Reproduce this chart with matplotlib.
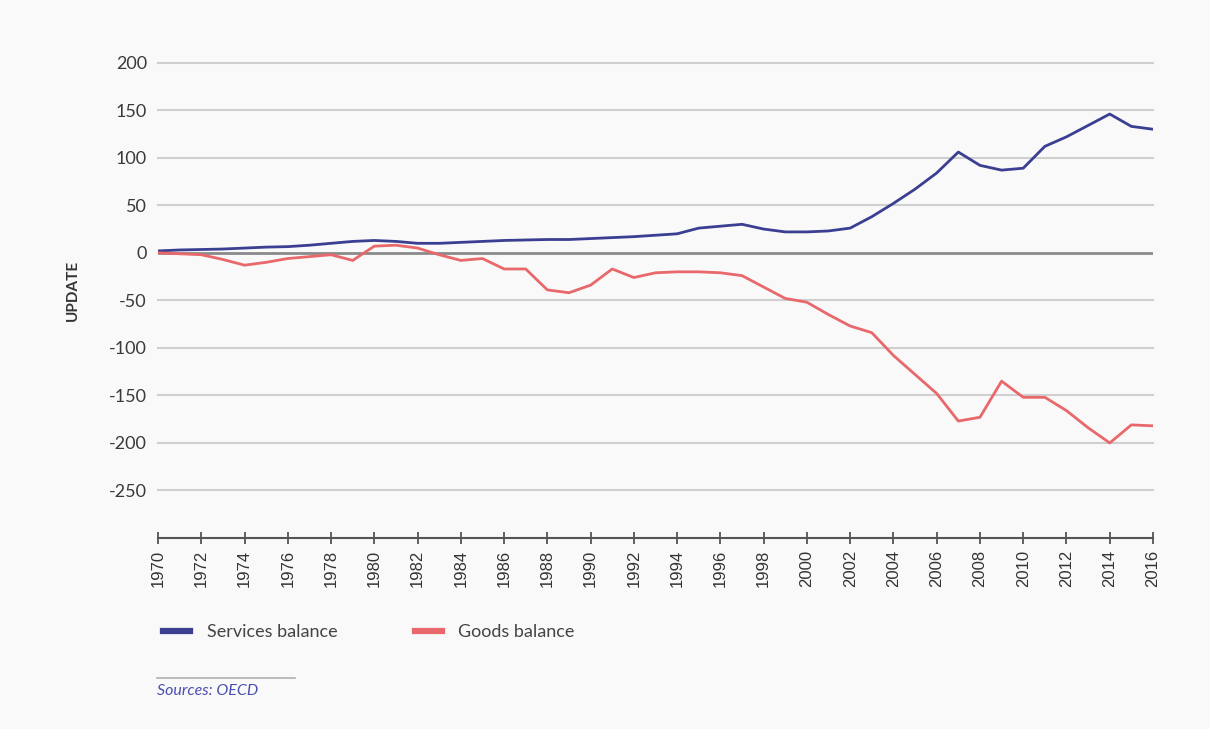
import matplotlib
matplotlib.use("Agg")
import matplotlib.pyplot as plt
from matplotlib.lines import Line2D

plt.rcParams["axes.unicode_minus"] = False

# Annual trade balances, 1970-2016
years = list(range(1970, 2017))
services_balance = [
    2, 3, 3.5, 4, 5, 6, 6.5, 8, 10, 12,
    13, 12, 10, 10, 11, 12, 13, 13.5, 14, 14,
    15, 16, 17, 18.5, 20, 26, 28, 30, 25, 22,
    22, 23, 26, 38, 52, 67, 84, 106, 92, 87,
    89, 112, 122, 134, 146, 133, 130,
]
goods_balance = [
    0, -1, -2, -7, -13, -10, -6, -4, -2, -8,
    7, 8, 5, -2, -8, -6, -17, -17, -39, -42,
    -34, -17, -26, -21, -20, -20, -21, -24, -36, -48,
    -52, -65, -77, -84, -108, -128, -148, -177, -173, -135,
    -152, -152, -166, -184, -200, -181, -182,
]
y_ticks = [200, 150, 100, 50, 0, -50, -100, -150, -200, -250]
x_ticks = list(range(1970, 2017, 2))

BLUE = "#3b3f92"
RED = "#e8686c"
BG = "#f9f9f9"

fig = plt.figure(figsize=(12.1, 7.29), dpi=100, facecolor=BG)
ax = fig.add_axes([158 / 1210, 1 - 538 / 729, 995 / 1210, (538 - 62.7) / 729])
ax.set_facecolor(BG)

ax.plot(years, services_balance, color=BLUE, lw=2.0, solid_joinstyle="round", zorder=4)
ax.plot(years, goods_balance, color=RED, lw=2.0, solid_joinstyle="round", zorder=4)

ax.set_xlim(1970, 2016)
ax.set_ylim(-300, 200)

# horizontal grid, zero line emphasised
ax.set_yticks(y_ticks)
for v in y_ticks:
    if v == 0:
        ax.axhline(v, color="#8a8a8a", lw=2.0, zorder=2)
    else:
        ax.axhline(v, color="#cfcfcf", lw=1.5, zorder=1, clip_on=False)

for side in ("top", "right", "left"):
    ax.spines[side].set_visible(False)
ax.spines["bottom"].set_color("#555555")
ax.spines["bottom"].set_linewidth(1.5)

ax.tick_params(axis="y", length=0, pad=8, labelsize=13, labelcolor="#3a3a3a")
for lab in ax.get_yticklabels():
    lab.set_family("Lato")

ax.set_xticks(x_ticks)
ax.set_xticklabels([str(y) for y in x_ticks], rotation=90, family="Liberation Sans",
                   fontsize=12, color="#333333")
ax.tick_params(axis="x", direction="inout", length=9, width=1.3, color="#555555", pad=4)

fig.text(73 / 1210, 1 - 290 / 729, "UPDATE", rotation=90, ha="center", va="center",
         fontsize=11, fontweight="bold", color="#333333", family="Lato")

handles = [Line2D([], [], color=BLUE, lw=4.5), Line2D([], [], color=RED, lw=4.5)]
leg = fig.legend(handles, ["Services balance", "Goods balance"], loc="center left",
                 bbox_to_anchor=(147 / 1210, 1 - 632 / 729), ncol=2, frameon=False,
                 handlelength=1.5, handletextpad=0.9, columnspacing=4.3,
                 prop={"family": "Lato", "size": 13})
for t in leg.get_texts():
    t.set_color("#444444")

fig.add_artist(Line2D([157 / 1210, 295 / 1210], [1 - 678 / 729, 1 - 678 / 729],
                      color="#b0b0b0", lw=1.2))
fig.text(157 / 1210, 1 - 691 / 729, "Sources: OECD", ha="left", va="center",
         fontsize=11.5, style="italic", color="#4a4fae", family="Lato")

fig.savefig("out.png", dpi=100, facecolor=BG)
